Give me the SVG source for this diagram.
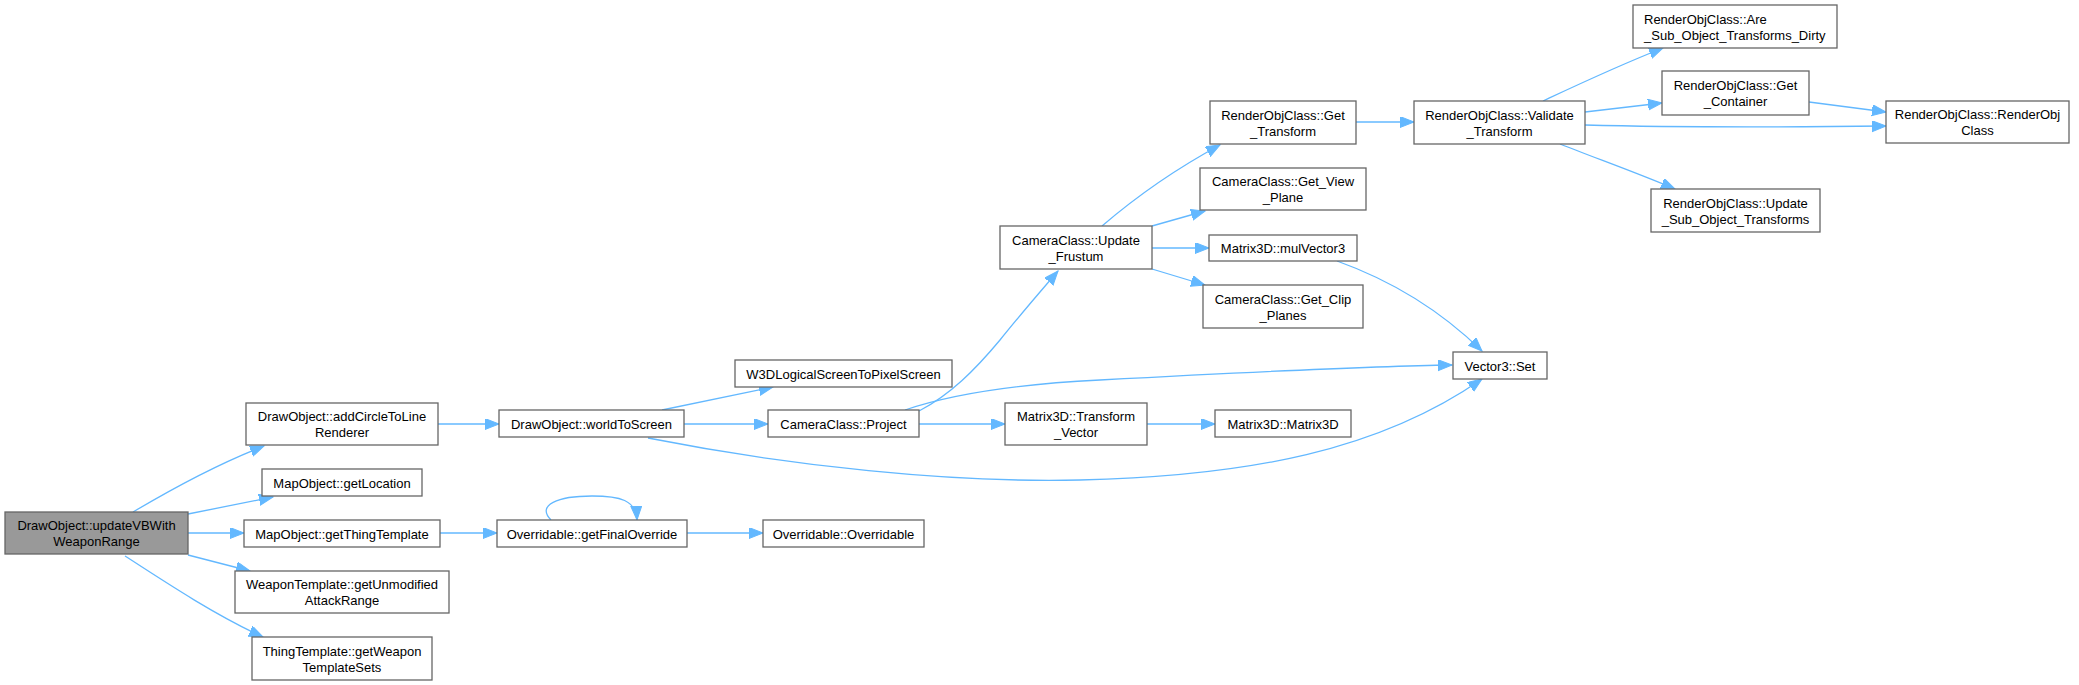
<svg xmlns="http://www.w3.org/2000/svg" width="2079" height="685" viewBox="0 0 2079 685">
<style>
.n rect{fill:#ffffff;stroke:#666666;stroke-width:1.3}
.n.root rect{fill:#999999}
.n text{font-family:"Liberation Sans",Arial,sans-serif;font-size:13px;fill:#000000;text-anchor:middle}
.n text.l{text-anchor:start}
.e path{fill:none;stroke:#63b8ff;stroke-width:1.3;marker-end:url(#ah)}
</style>
<defs>
<marker id="ah" markerWidth="16" markerHeight="12" refX="14" refY="5.5" orient="auto" markerUnits="userSpaceOnUse">
<path d="M0,0 L14,5.5 L0,11 z" fill="#63b8ff" stroke="#63b8ff" stroke-width="1"/>
</marker>
</defs>
<rect width="2079" height="685" fill="#ffffff"/>
<g id="edges" class="e">
<path d="M133,512 C170,490 215,465 264,446"/>
<path d="M188,514 L273,497"/>
<path d="M188,533 L244,533"/>
<path d="M188,555 L250,571"/>
<path d="M125,556 C165,582 215,615 263,637"/>
<path d="M438,424 L499,424"/>
<path d="M440,533 L497,533"/>
<path d="M551,520 C536,505 558,496 592,496 C620,496 636,500 637,520"/>
<path d="M687,533 L763,533"/>
<path d="M662,410 L773,387"/>
<path d="M684,424 L768,424"/>
<path d="M648,438 C790,466 950,483 1080,480 C1250,476 1380,450 1482,379"/>
<path d="M919,411 C950,395 975,370 1000,340 C1020,315 1040,292 1058,271"/>
<path d="M905,410 C940,398 1000,385 1100,380 C1250,372 1380,366 1452,365"/>
<path d="M919,424 L1005,424"/>
<path d="M1102,226 C1130,202 1170,172 1220,145"/>
<path d="M1152,226 L1205,211"/>
<path d="M1152,248 L1209,248"/>
<path d="M1152,269 L1205,285"/>
<path d="M1337,261 C1390,280 1440,310 1482,351"/>
<path d="M1147,424 L1215,424"/>
<path d="M1356,122 L1414,122"/>
<path d="M1543,101 C1575,86 1615,67 1663,48"/>
<path d="M1585,112 L1662,103"/>
<path d="M1809,102 L1886,112"/>
<path d="M1585,125 C1700,128 1800,127 1886,126"/>
<path d="M1560,144 C1595,158 1635,172 1675,189"/>
</g>
<g id="n0" class="n root"><rect x="5" y="512" width="183" height="42"/><text x="96.5" y="530">DrawObject::updateVBWith</text><text x="96.5" y="546">WeaponRange</text></g>
<g id="n1" class="n"><rect x="246" y="403" width="192" height="42"/><text x="342" y="421">DrawObject::addCircleToLine</text><text x="342" y="437">Renderer</text></g>
<g id="n2" class="n"><rect x="262" y="469" width="160" height="27"/><text x="342" y="487.5">MapObject::getLocation</text></g>
<g id="n3" class="n"><rect x="244" y="520" width="196" height="27"/><text x="342" y="538.5">MapObject::getThingTemplate</text></g>
<g id="n4" class="n"><rect x="235" y="571" width="214" height="42"/><text x="342" y="589">WeaponTemplate::getUnmodified</text><text x="342" y="605">AttackRange</text></g>
<g id="n5" class="n"><rect x="252" y="637" width="180" height="43"/><text x="342" y="655.5">ThingTemplate::getWeapon</text><text x="342" y="671.5">TemplateSets</text></g>
<g id="n6" class="n"><rect x="499" y="410" width="185" height="27"/><text x="591.5" y="428.5">DrawObject::worldToScreen</text></g>
<g id="n7" class="n"><rect x="497" y="520" width="190" height="27"/><text x="592" y="538.5">Overridable::getFinalOverride</text></g>
<g id="n8" class="n"><rect x="735" y="360" width="217" height="27"/><text x="843.5" y="378.5">W3DLogicalScreenToPixelScreen</text></g>
<g id="n9" class="n"><rect x="768" y="410" width="151" height="27"/><text x="843.5" y="428.5">CameraClass::Project</text></g>
<g id="n10" class="n"><rect x="763" y="520" width="161" height="27"/><text x="843.5" y="538.5">Overridable::Overridable</text></g>
<g id="n11" class="n"><rect x="1000" y="226" width="152" height="43"/><text x="1076" y="244.5">CameraClass::Update</text><text x="1076" y="260.5">_Frustum</text></g>
<g id="n12" class="n"><rect x="1005" y="403" width="142" height="42"/><text x="1076" y="421">Matrix3D::Transform</text><text x="1076" y="437">_Vector</text></g>
<g id="n13" class="n"><rect x="1210" y="101" width="146" height="43"/><text x="1283" y="119.5">RenderObjClass::Get</text><text x="1283" y="135.5">_Transform</text></g>
<g id="n14" class="n"><rect x="1200" y="168" width="166" height="42"/><text x="1283" y="186">CameraClass::Get_View</text><text x="1283" y="202">_Plane</text></g>
<g id="n15" class="n"><rect x="1209" y="235" width="148" height="26"/><text x="1283" y="253">Matrix3D::mulVector3</text></g>
<g id="n16" class="n"><rect x="1203" y="285" width="160" height="43"/><text x="1283" y="303.5">CameraClass::Get_Clip</text><text x="1283" y="319.5">_Planes</text></g>
<g id="n17" class="n"><rect x="1215" y="410" width="136" height="27"/><text x="1283" y="428.5">Matrix3D::Matrix3D</text></g>
<g id="n18" class="n"><rect x="1453" y="352" width="94" height="27"/><text x="1500" y="370.5">Vector3::Set</text></g>
<g id="n19" class="n"><rect x="1414" y="101" width="171" height="43"/><text x="1499.5" y="119.5">RenderObjClass::Validate</text><text x="1499.5" y="135.5">_Transform</text></g>
<g id="n20" class="n"><rect x="1633" y="5" width="204" height="43"/><text class="l" x="1644" y="23.5">RenderObjClass::Are</text><text class="l" x="1644" y="39.5">_Sub_Object_Transforms_Dirty</text></g>
<g id="n21" class="n"><rect x="1662" y="71" width="147" height="44"/><text x="1735.5" y="90">RenderObjClass::Get</text><text x="1735.5" y="106">_Container</text></g>
<g id="n22" class="n"><rect x="1886" y="101" width="183" height="42"/><text x="1977.5" y="119">RenderObjClass::RenderObj</text><text x="1977.5" y="135">Class</text></g>
<g id="n23" class="n"><rect x="1651" y="189" width="169" height="43"/><text x="1735.5" y="207.5">RenderObjClass::Update</text><text x="1735.5" y="223.5">_Sub_Object_Transforms</text></g>
</svg>
